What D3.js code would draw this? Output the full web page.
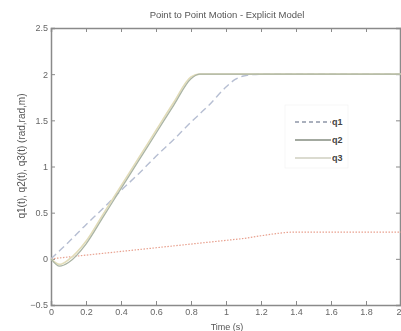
<!DOCTYPE html>
<html>
<head>
<meta charset="utf-8">
<script src="https://cdn.jsdelivr.net/npm/d3@7"></script>
<style>
  html, body { margin: 0; padding: 0; background: #fff; }
  svg { display: block; filter: blur(0.6px); }
  text { font-family: "Liberation Sans", Arial, sans-serif; fill: #555; }
</style>
</head>
<body>
<figure id="chart" style="margin:0"></figure>
<script>
// time samples (s)
const time = [0, 0.05, 0.1, 0.2, 0.3, 0.4, 0.5, 0.6, 0.7, 0.8, 0.85, 0.9, 1.0, 1.05, 1.1, 1.2, 1.4, 1.6, 1.8, 2.0];
// joint trajectories
const q1 = [0, 0.09, 0.18, 0.37, 0.55, 0.74, 0.92, 1.11, 1.29, 1.48, 1.57, 1.66, 1.86, 1.94, 1.98, 2.0, 2.0, 2.0, 2.0, 2.0];
const q2 = [0, -0.08, -0.04, 0.16, 0.46, 0.76, 1.06, 1.36, 1.66, 1.95, 2.0, 2.0, 2.0, 2.0, 2.0, 2.0, 2.0, 2.0, 2.0, 2.0];
const q3 = [0, -0.06, -0.01, 0.19, 0.49, 0.79, 1.09, 1.39, 1.69, 1.97, 2.0, 2.0, 2.0, 2.0, 2.0, 2.0, 2.0, 2.0, 2.0, 2.0];
const qr = [0, 0.01, 0.02, 0.04, 0.06, 0.08, 0.1, 0.12, 0.14, 0.16, 0.17, 0.18, 0.2, 0.21, 0.22, 0.25, 0.29, 0.29, 0.29, 0.29];
const xTicks = [0, 0.2, 0.4, 0.6, 0.8, 1, 1.2, 1.4, 1.6, 1.8, 2];
const yTicks = [-0.5, 0, 0.5, 1, 1.5, 2, 2.5];
const legendNames = ["q1", "q2", "q3"];

const width = 401, height = 331;
const plotLeft = 51, plotRight = 401, plotTop = 28, plotBottom = 305;

const svg = d3.select("#chart").append("svg")
  .attr("width", width)
  .attr("height", height);

const x = d3.scaleLinear().domain([0, 2]).range([plotLeft, plotRight]);
const y = d3.scaleLinear().domain([-0.5, 2.5]).range([plotBottom, plotTop]);

const axisColor = "#8a8a8a";

// frame axes, ticks pointing inward
const xAxis = svg.append("g")
  .attr("transform", "translate(0," + plotBottom + ")")
  .call(d3.axisBottom(x).tickValues(xTicks).tickSize(-4).tickPadding(4).tickFormat(d3.format("")));
// last label sits on the window edge, keep it inside
xAxis.selectAll(".tick text").filter(d => d === 2).attr("text-anchor", "end");

svg.append("g")
  .attr("transform", "translate(0," + plotTop + ")")
  .call(d3.axisTop(x).tickValues(xTicks).tickSize(-4).tickFormat(""));
svg.append("g")
  .attr("transform", "translate(" + plotLeft + ",0)")
  .call(d3.axisLeft(y).tickValues(yTicks).tickSize(-4).tickPadding(3).tickFormat(d3.format("")));
svg.append("g")
  .attr("transform", "translate(" + (plotRight - 1) + ",0)")
  .call(d3.axisRight(y).tickValues(yTicks).tickSize(-4).tickFormat(""));

svg.selectAll(".domain").attr("stroke", axisColor).attr("stroke-width", 1.5);
svg.selectAll(".tick line").attr("stroke", axisColor);
svg.selectAll(".tick text").style("font-size", "9px").style("fill", "#666");

const line = d3.line().x((d, i) => x(time[i])).y(d => y(d)).curve(d3.curveMonotoneX);

const series = [
  { data: qr, color: "#e8a08e", dash: "1.5,1.5", w: 1.2 },
  { data: q1, color: "#b6bed2", dash: "7,4", w: 1.4 },
  { data: q3, color: "#e2dcb8", dash: null, w: 1.6 },
  { data: q2, color: "#aab4a4", dash: null, w: 1.3 }
];

series.forEach(s => {
  svg.append("path")
    .datum(s.data)
    .attr("fill", "none")
    .attr("stroke", s.color)
    .attr("stroke-width", s.w)
    .attr("stroke-dasharray", s.dash)
    .attr("d", line);
});

// legend
const legendStyles = [
  { color: "#8f96a8", dash: "4,3" },
  { color: "#858c80", dash: null },
  { color: "#cfcfc0", dash: null }
];
const lg = svg.append("g").attr("transform", "translate(285,105)");
lg.append("rect").attr("width", 63).attr("height", 63).attr("fill", "#fff").attr("stroke", "#f2f2f2").attr("stroke-width", 0.6);
legendNames.forEach((name, i) => {
  const yy = 17 + i * 18;
  lg.append("line")
    .attr("x1", 10).attr("x2", 46).attr("y1", yy).attr("y2", yy)
    .attr("stroke", legendStyles[i].color)
    .attr("stroke-width", 1.3)
    .attr("stroke-dasharray", legendStyles[i].dash);
  lg.append("text")
    .attr("x", 47).attr("y", yy + 3)
    .style("font-size", "9px").style("font-weight", "bold").style("fill", "#444")
    .text(name);
});

svg.append("text")
  .attr("x", 227).attr("y", 18)
  .attr("text-anchor", "middle")
  .style("font-size", "9.5px")
  .style("fill", "#555")
  .text("Point to Point Motion - Explicit Model");

svg.append("text")
  .attr("x", 227).attr("y", 330)
  .attr("text-anchor", "middle")
  .style("font-size", "9px")
  .text("Time (s)");

svg.append("text")
  .attr("transform", "translate(25,156) rotate(-90)")
  .attr("text-anchor", "middle")
  .style("font-size", "10px")
  .text("q1(t), q2(t), q3(t) (rad,rad,m)");
</script>
</body>
</html>
